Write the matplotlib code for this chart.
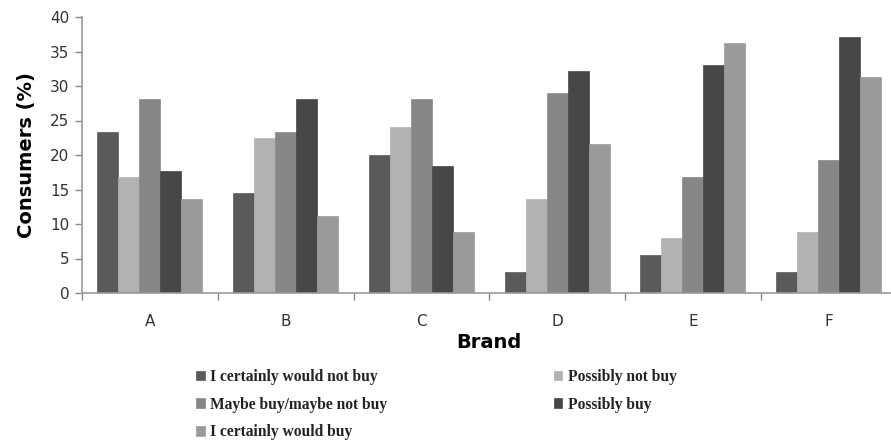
import matplotlib
matplotlib.use("Agg")
import matplotlib.pyplot as plt
import numpy as np

brands = ["A", "B", "C", "D", "E", "F"]
series_names = [
    "I certainly would not buy",
    "Possibly not buy",
    "Maybe buy/maybe not buy",
    "Possibly buy",
    "I certainly would buy",
]
would_not_buy = [23.3, 14.5, 20.0, 3.1, 5.5, 3.1]
possibly_not_buy = [16.8, 22.4, 24.1, 13.6, 8.0, 8.9]
maybe_buy = [28.1, 23.3, 28.1, 29.0, 16.8, 19.3]
possibly_buy = [17.7, 28.1, 18.4, 32.2, 33.0, 37.1]
would_buy = [13.6, 11.2, 8.9, 21.6, 36.2, 31.3]
y_ticks = [0, 5, 10, 15, 20, 25, 30, 35, 40]

series = [would_not_buy, possibly_not_buy, maybe_buy, possibly_buy, would_buy]
colors = ["#5a5a5a", "#b2b2b2", "#878787", "#474747", "#9a9a9a"]

fig = plt.figure(figsize=(8.91, 4.45), dpi=100)
ax = fig.add_axes([82 / 891, 152 / 445, 814.5 / 891, 276 / 445])

x = np.arange(len(brands))
bw = 0.155
bars = []
for i, (vals, col) in enumerate(zip(series, colors)):
    b = ax.bar(x + (i - 2) * bw, vals, width=bw, color=col,
               edgecolor=col, linewidth=0.5, label=series_names[i])
    bars.append(b)

ax.set_xlim(-0.5, len(brands) - 0.5)
ax.set_ylim(0, 40)
ax.set_yticks(y_ticks)
ax.tick_params(axis="y", labelsize=11, labelcolor="#333333", color="#888888",
               length=5, width=1, direction="out", pad=4)
ax.set_xticks(x)
ax.set_xticklabels(brands)
ax.set_xticks(np.arange(len(brands) + 1) - 0.5, minor=True)
ax.tick_params(axis="x", which="major", length=0, labelsize=11,
               labelcolor="#333333", pad=15)
ax.tick_params(axis="x", which="minor", length=5, color="#888888", width=1)

for side in ("top", "right"):
    ax.spines[side].set_visible(False)
for side in ("left", "bottom"):
    ax.spines[side].set_color("#999999")
    ax.spines[side].set_linewidth(1.2)

ax.set_ylabel("Consumers (%)", fontsize=14, fontweight="bold", labelpad=10)
ax.set_xlabel("Brand", fontsize=14, fontweight="bold", labelpad=3)

order = [0, 2, 4, 1, 3]
leg = fig.legend([bars[i] for i in order], [series_names[i] for i in order],
                 ncol=2, loc="upper left", bbox_to_anchor=(182 / 891, 1 - 355 / 445),
                 frameon=False, handlelength=0.55, handleheight=0.55,
                 handletextpad=0.35, columnspacing=10.7, labelspacing=0.75,
                 prop={"family": "Liberation Serif", "weight": "bold", "size": 11.2})
for t in leg.get_texts():
    t.set_color("#222222")

fig.savefig("out.png", dpi=100)
